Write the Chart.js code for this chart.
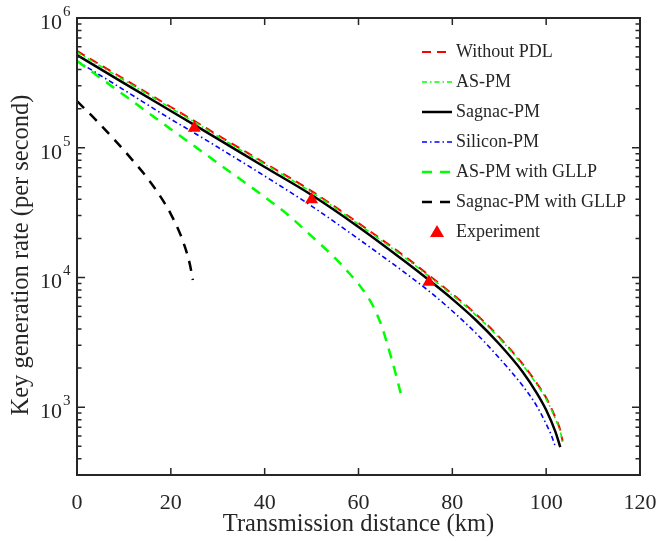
<!DOCTYPE html>
<html>
<head>
<meta charset="utf-8">
<script src="https://cdn.jsdelivr.net/npm/chart.js@4.4.1/dist/chart.umd.min.js"></script>
<style>
  html, body { margin: 0; padding: 0; background: #fff; }
  canvas { display: block; }
</style>
</head>
<body>
<canvas id="kgr" width="659" height="541"></canvas>
<script>
// ── DATA (distance in km, key rate per second) ───────────────────────────
const DIST_NOPDL  = [0,10,20,25,30,40,50,60,70,75,80,85,90,95,98,100,102,103,103.5];
const RATE_NOPDL  = [557000,339000,206000,161000,125000,76200,46300,26200,14400,10400,7450,5230,3470,2150,1530,1180,825,666,548];

const DIST_ASPM   = [0,10,20,25,30,40,50,60,70,75,80,85,90,95,98,100,102,103,103.5];
const RATE_ASPM   = [546000,332000,202000,158000,122500,74700,45400,25700,14100,10200,7300,5130,3400,2110,1500,1155,808,652,537];

const DIST_SAGNAC = [0,10,20,25,30,40,50,60,70,75,80,85,90,95,98,100,102,103];
const RATE_SAGNAC = [519000,315000,192000,150000,117000,71000,43200,24500,13200,9550,6810,4700,3070,1870,1285,951,643,492];

const DIST_SI     = [0,10,20,25,30,40,50,60,70,75,80,85,90,95,98,100,101,102];
const RATE_SI     = [466000,279000,166000,130000,101000,60500,35500,19800,10800,7860,5510,3730,2390,1460,1020,741,621,492];

const DIST_ASGLLP = [0,10,20,25,30,40,45,50,55,58,60,62,63,64,65,66,67,68,69,69.3];
const RATE_ASGLLP = [466000,255000,139000,103000,76200,41700,30300,20800,14100,10800,8890,7060,6130,5130,4150,3180,2390,1770,1280,1175];

const DIST_SGGLLP = [0,4,8,12,15,18,20,22,23,24,24.7];
const RATE_SGGLLP = [229000,164000,115000,78900,58400,40900,30800,21600,17200,12900,9550];

const DIST_EXP    = [25,50,75];
const RATE_EXP    = [142000,39900,9230];

const X_TICKS     = [0,20,40,60,80,100,120];
const Y_DECADES   = [3,4,5,6];
const X_TITLE     = 'Transmission distance (km)';
const Y_TITLE     = 'Key generation rate (per second)';

// ── STYLE ────────────────────────────────────────────────────────────────
const SERIF = '"Liberation Serif", "Times New Roman", serif';
const AXIS  = '#262626';

const pts = (xs, ys) => xs.map((x, i) => ({ x, y: ys[i] }));

const LEGEND = [
    { label: 'Without PDL',         color: '#ff0000', dash: [9, 6],         width: 2   },
    { label: 'AS-PM',               color: '#00ff00', dash: [5, 3, 1.5, 3], width: 1.6 },
    { label: 'Sagnac-PM',           color: '#000000', dash: [],             width: 2.5 },
    { label: 'Silicon-PM',          color: '#0000ff', dash: [5, 3, 1.5, 3], width: 1.6 },
    { label: 'AS-PM with GLLP',     color: '#00ff00', dash: [10, 8],        width: 2.5 },
    { label: 'Sagnac-PM with GLLP', color: '#000000', dash: [10, 8],        width: 2.5 },
    { label: 'Experiment',          color: '#ff0000', marker: true }
];

function lineSet(i, data, order) {
    const s = LEGEND[i];
    return {
        label: s.label,
        data,
        borderColor: s.color,
        borderWidth: s.width,
        borderDash: s.dash,
        pointRadius: 0,
        fill: false,
        cubicInterpolationMode: 'monotone',
        order
    };
}

// ── AXES, TICKS, LEGEND (MATLAB look) ────────────────────────────────────
const matlabFrame = {
    id: 'matlabFrame',
    afterDraw(chart) {
        const { ctx, chartArea: a, scales: { x, y } } = chart;
        ctx.save();
        ctx.strokeStyle = AXIS;
        ctx.lineWidth = 1.5;

        // inward ticks on all four sides
        ctx.beginPath();
        X_TICKS.forEach(v => {
            const px = x.getPixelForValue(v);
            ctx.moveTo(px, a.bottom); ctx.lineTo(px, a.bottom - 7);
            ctx.moveTo(px, a.top);    ctx.lineTo(px, a.top + 7);
        });
        for (let d = 2; d <= 6; d++) {
            for (let m = 1; m <= 9; m++) {
                const v = m * Math.pow(10, d);
                if (v < y.min || v > y.max) continue;
                const py = y.getPixelForValue(v);
                const len = m === 1 ? 8 : 4.5;
                ctx.moveTo(a.left, py);  ctx.lineTo(a.left + len, py);
                ctx.moveTo(a.right, py); ctx.lineTo(a.right - len, py);
            }
        }
        ctx.stroke();

        // box
        ctx.lineWidth = 2;
        ctx.strokeRect(a.left, a.top, a.right - a.left, a.bottom - a.top);

        // tick labels
        ctx.fillStyle = AXIS;
        ctx.font = `22px ${SERIF}`;
        ctx.textAlign = 'center';
        ctx.textBaseline = 'middle';
        X_TICKS.forEach(v => ctx.fillText(String(v), x.getPixelForValue(v), a.bottom + 28));

        Y_DECADES.forEach(d => {
            const py = y.getPixelForValue(Math.pow(10, d));
            ctx.font = `22px ${SERIF}`;
            ctx.textAlign = 'right';
            ctx.textBaseline = 'middle';
            ctx.fillText('10', 62, py + 5);
            ctx.font = `15px ${SERIF}`;
            ctx.textAlign = 'left';
            ctx.textBaseline = 'alphabetic';
            ctx.fillText(String(d), 63, py - 2);
        });

        // axis titles
        ctx.font = `24.5px ${SERIF}`;
        ctx.textAlign = 'center';
        ctx.textBaseline = 'middle';
        ctx.fillText(X_TITLE, (a.left + a.right) / 2, a.bottom + 50);
        ctx.save();
        ctx.translate(22, 255);
        ctx.rotate(-Math.PI / 2);
        ctx.fillText(Y_TITLE, 0, 0);
        ctx.restore();

        // legend
        ctx.font = `18px ${SERIF}`;
        ctx.textAlign = 'left';
        LEGEND.forEach((s, i) => {
            const ry = 52 + i * 30;
            if (s.marker) {
                ctx.fillStyle = s.color;
                ctx.beginPath();
                ctx.moveTo(437, ry - 7);
                ctx.lineTo(444, ry + 5);
                ctx.lineTo(430, ry + 5);
                ctx.closePath();
                ctx.fill();
            } else {
                ctx.strokeStyle = s.color;
                ctx.lineWidth = s.width;
                ctx.setLineDash(s.dash);
                ctx.beginPath();
                ctx.moveTo(422, ry); ctx.lineTo(452, ry);
                ctx.stroke();
                ctx.setLineDash([]);
            }
            ctx.fillStyle = AXIS;
            ctx.fillText(s.label, 456, ry);
        });
        ctx.restore();
    }
};

new Chart(document.getElementById('kgr'), {
    type: 'line',
    data: {
        datasets: [
            {
                label: 'Experiment',
                data: pts(DIST_EXP, RATE_EXP),
                showLine: false,
                pointStyle: 'triangle',
                pointRadius: 7.5,
                pointBackgroundColor: '#ff0000',
                pointBorderColor: '#ff0000',
                pointBorderWidth: 0,
                order: 0
            },
            lineSet(5, pts(DIST_SGGLLP, RATE_SGGLLP), 1),
            lineSet(4, pts(DIST_ASGLLP, RATE_ASGLLP), 2),
            lineSet(3, pts(DIST_SI, RATE_SI), 3),
            lineSet(2, pts(DIST_SAGNAC, RATE_SAGNAC), 4),
            lineSet(1, pts(DIST_ASPM, RATE_ASPM), 5),
            lineSet(0, pts(DIST_NOPDL, RATE_NOPDL), 6)
        ]
    },
    options: {
        responsive: false,
        animation: false,
        layout: { padding: { left: 77, top: 18, right: 19, bottom: 66 } },
        plugins: { legend: { display: false }, tooltip: { enabled: false } },
        scales: {
            x: { type: 'linear', min: 0, max: 120, display: false },
            y: { type: 'logarithmic', min: 300, max: 1000000, display: false }
        }
    },
    plugins: [matlabFrame]
});
</script>
</body>
</html>
